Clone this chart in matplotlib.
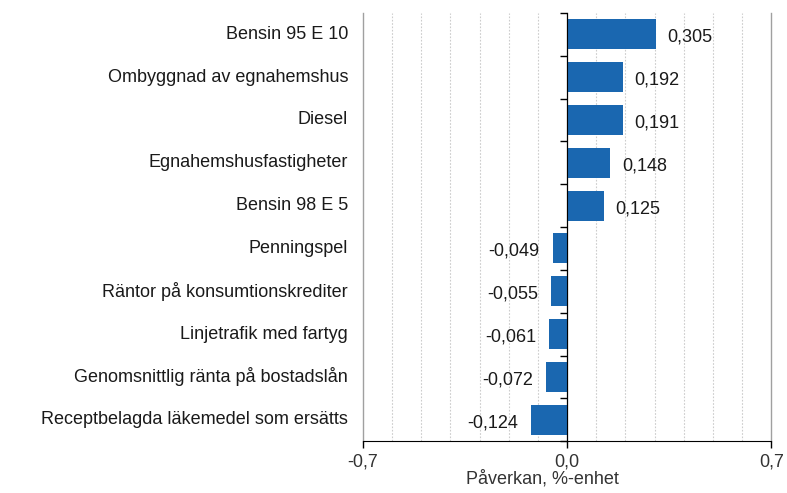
import matplotlib
matplotlib.use("Agg")
import matplotlib.pyplot as plt
import matplotlib.transforms as mtransforms
import numpy as np

categories = ["Bensin 95 E 10", "Ombyggnad av egnahemshus", "Diesel",
              "Egnahemshusfastigheter", "Bensin 98 E 5", "Penningspel",
              "Räntor på konsumtionskrediter", "Linjetrafik med fartyg",
              "Genomsnittlig ränta på bostadslån",
              "Receptbelagda läkemedel som ersätts"]
values = [0.305, 0.192, 0.191, 0.148, 0.125, -0.049, -0.055, -0.061, -0.072, -0.124]
xticks = [-0.7, 0.0, 0.7]
xtick_labels = ["-0,7", "0,0", "0,7"]

plt.rcParams['font.family'] = ['Liberation Sans', 'DejaVu Sans']
plt.rcParams['font.size'] = 13

fig = plt.figure(figsize=(7.87, 4.93), dpi=100)
ax = fig.add_axes([0.461, 0.105, 0.519, 0.869])

y = np.arange(len(categories))
ax.barh(y, values, height=0.7, color='#1a67b0', zorder=3)
ax.set_xlim(-0.7, 0.7)
ax.set_ylim(len(categories) - 0.5, -0.5)

# grid
ax.set_xticks(xticks)
ax.set_xticklabels(xtick_labels, color='#333333')
ax.set_xticks(np.arange(-7, 8) / 10, minor=True)
ax.grid(True, axis='x', which='minor', color='#cccccc', linestyle=(0, (1.5, 1.5)), linewidth=0.8)
ax.grid(True, axis='x', which='major', color='#a0a0a0', linestyle='-', linewidth=1.0)
for gl in ax.get_xgridlines():
    gl.set_clip_on(False)
ax.tick_params(axis='x', which='minor', length=0)
ax.tick_params(axis='x', which='major', length=5, width=1, color='black', pad=4)

ax.spines['top'].set_visible(False)
ax.spines['right'].set_visible(False)
ax.spines['left'].set_position(('data', 0))
ax.spines['left'].set_zorder(4)
ax.spines['bottom'].set_zorder(4)

ax.set_yticks(np.arange(len(categories) + 1) - 0.5)
ax.set_yticklabels([])
ax.tick_params(axis='y', length=5, width=1, direction='out')

trans = mtransforms.blended_transform_factory(ax.transAxes, ax.transData)
for i, cat in enumerate(categories):
    ax.text(-0.036, i, cat, transform=trans, ha='right', va='center', color='#1a1a1a')

for i, v in enumerate(values):
    lbl = f"{v:.3f}".replace('.', ',')
    if v >= 0:
        ax.text(v + 0.04, i + 0.07, lbl, ha='left', va='center', color='#1a1a1a')
    else:
        ax.text(v - 0.045, i + 0.07, lbl, ha='right', va='center', color='#1a1a1a')

ax.set_xlabel("Påverkan, %-enhet", color='#333333')
ax.xaxis.set_label_coords(0.44, -0.068)
ax.xaxis.label.set_va('top')

fig.savefig("out.png", dpi=100)
